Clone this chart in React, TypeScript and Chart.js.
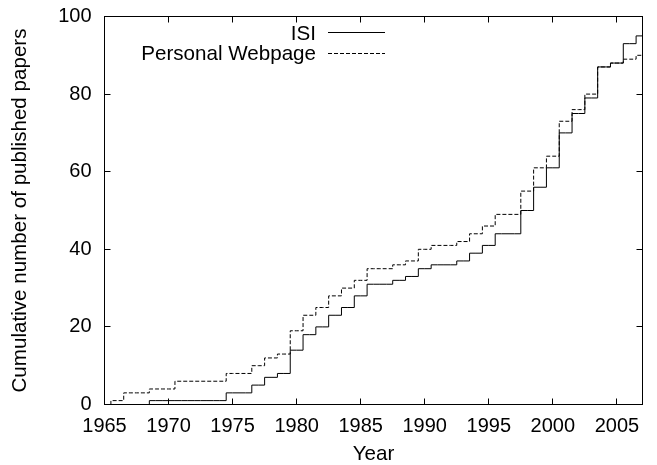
import React, { useEffect, useRef } from 'react';
import { Chart, registerables } from 'chart.js';

Chart.register(...registerables);

// ---- Data ----
const years = [
  1965, 1966, 1967, 1968, 1969, 1970, 1971, 1972, 1973, 1974,
  1975, 1976, 1977, 1978, 1979, 1980, 1981, 1982, 1983, 1984,
  1985, 1986, 1987, 1988, 1989, 1990, 1991, 1992, 1993, 1994,
  1995, 1996, 1997, 1998, 1999, 2000, 2001, 2002, 2003, 2004,
  2005, 2006, 2007,
];

// cumulative number of papers (ISI)
const isiCounts = [
  null, null, null, 0, 1, 1, 1, 1, 1, 1,
  3, 3, 5, 7, 8, 14, 18, 20, 23, 25,
  28, 31, 31, 32, 33, 35, 36, 36, 37, 39,
  41, 44, 44, 50, 56, 61, 70, 75, 79, 87,
  88, 93, 95,
];

// cumulative number of papers (Personal Webpage)
const webpageCounts = [
  0, 1, 3, 3, 4, 4, 6, 6, 6, 6,
  8, 8, 10, 12, 13, 19, 23, 25, 28, 30,
  32, 35, 35, 36, 37, 40, 41, 41, 42, 44,
  46, 49, 49, 55, 61, 64, 73, 76, 80, 87,
  88, 89, 90,
];

const seriesLabels = ['ISI', 'Personal Webpage'];
const xTicks = [1965, 1970, 1975, 1980, 1985, 1990, 1995, 2000, 2005];
const yTicks = [0, 20, 40, 60, 80, 100];
const xRange = [1965, 2007];
const yRange = [0, 100];
const xTitle = 'Year';
const yTitle = 'Cumulative number of published papers';

const FONT = "'Liberation Sans', Arial, Helvetica, sans-serif";
const FONT_SIZE = 20;
const TEXT_SIZE = 20.6;

const gnuplotFrame = {
  id: 'gnuplotFrame',
  afterDraw(chart: any) {
    const { ctx, chartArea: a, scales } = chart;
    const xs = scales.x;
    const ys = scales.y;
    const crisp = (p: number) => Math.round(p - 0.5) + 0.5;
    const tl = 6;
    ctx.save();
    ctx.strokeStyle = '#000';
    ctx.lineWidth = 1;
    ctx.setLineDash([]);
    ctx.strokeRect(a.left, a.top, a.right - a.left, a.bottom - a.top);
    ctx.beginPath();
    xTicks.forEach((v) => {
      const px = crisp(xs.getPixelForValue(v));
      ctx.moveTo(px, a.bottom);
      ctx.lineTo(px, a.bottom - tl);
      ctx.moveTo(px, a.top);
      ctx.lineTo(px, a.top + tl);
    });
    yTicks.forEach((v) => {
      const py = crisp(ys.getPixelForValue(v));
      ctx.moveTo(a.left, py);
      ctx.lineTo(a.left + tl, py);
      ctx.moveTo(a.right, py);
      ctx.lineTo(a.right - tl, py);
    });
    ctx.stroke();

    // gnuplot-style key: text right-aligned, sample line to its right
    ctx.font = `${TEXT_SIZE}px ${FONT}`;
    ctx.fillStyle = '#000';
    ctx.textAlign = 'right';
    ctx.textBaseline = 'alphabetic';
    const textRight = a.right - 326.5;
    const lineStart = a.right - 314.5;
    const lineEnd = a.right - 257.5;
    chart.data.datasets.forEach((ds: any, i: number) => {
      const baseY = a.top + 23.5 + i * 20;
      const lineY = a.top + 16 + i * 21;
      ctx.fillText(ds.label, textRight, baseY);
      ctx.beginPath();
      ctx.setLineDash(ds.borderDash || []);
      ctx.lineWidth = 1;
      ctx.strokeStyle = '#000';
      ctx.moveTo(lineStart, lineY);
      ctx.lineTo(lineEnd, lineY);
      ctx.stroke();
    });
    ctx.restore();
  },
};

export default function App() {
  const canvasRef = useRef<HTMLCanvasElement | null>(null);

  useEffect(() => {
    document.body.style.margin = '0';
    const canvas = canvasRef.current;
    if (!canvas) return;

    const chart = new Chart(canvas, {
      type: 'line',
      data: {
        datasets: [
          {
            label: seriesLabels[0],
            data: years.map((yr, i) => ({ x: yr, y: isiCounts[i] })),
            borderColor: '#000',
            borderWidth: 1,
            stepped: 'middle',
            pointRadius: 0,
            fill: false,
            spanGaps: false,
          },
          {
            label: seriesLabels[1],
            data: years.map((yr, i) => ({ x: yr, y: webpageCounts[i] })),
            borderColor: '#000',
            borderWidth: 1,
            borderDash: [4, 2],
            stepped: 'middle',
            pointRadius: 0,
            fill: false,
            spanGaps: false,
          },
        ],
      } as any,
      options: {
        animation: false,
        responsive: false,
        devicePixelRatio: 1,
        events: [],
        layout: { padding: { top: 16.5, right: 14.5, left: 0, bottom: 0 } },
        plugins: {
          legend: { display: false },
          tooltip: { enabled: false },
        },
        scales: {
          x: {
            type: 'linear',
            min: xRange[0],
            max: xRange[1],
            grid: { display: false, drawTicks: false },
            border: { display: false },
            afterBuildTicks: (scale: any) => {
              scale.ticks = xTicks.map((v) => ({ value: v }));
            },
            afterFit: (scale: any) => {
              scale.height = 60.5;
              scale.paddingLeft = 0;
              scale.paddingRight = 0;
            },
            ticks: {
              autoSkip: false,
              maxRotation: 0,
              padding: 10,
              color: '#000',
              font: { family: FONT, size: FONT_SIZE },
              callback: (v: any) => String(v),
            },
            title: {
              display: true,
              text: xTitle,
              color: '#000',
              font: { family: FONT, size: TEXT_SIZE },
              padding: { top: 0, bottom: -1.5 },
            },
          },
          y: {
            type: 'linear',
            min: yRange[0],
            max: yRange[1],
            grid: { display: false, drawTicks: false },
            border: { display: false },
            afterBuildTicks: (scale: any) => {
              scale.ticks = yTicks.map((v) => ({ value: v }));
            },
            afterFit: (scale: any) => {
              scale.width = 104.5;
              scale.paddingTop = 0;
              scale.paddingBottom = 0;
            },
            ticks: {
              padding: 13,
              color: '#000',
              font: { family: FONT, size: FONT_SIZE },
              callback: (v: any) => String(v),
            },
            title: {
              display: true,
              text: yTitle,
              color: '#000',
              font: { family: FONT, size: TEXT_SIZE },
              padding: { top: 7.5, bottom: 0 },
            },
          },
        },
      } as any,
      plugins: [gnuplotFrame],
    });

    return () => chart.destroy();
  }, []);

  return (
    <div style={{ width: 657, height: 465, background: '#fff' }}>
      <canvas ref={canvasRef} width={657} height={465} />
    </div>
  );
}
